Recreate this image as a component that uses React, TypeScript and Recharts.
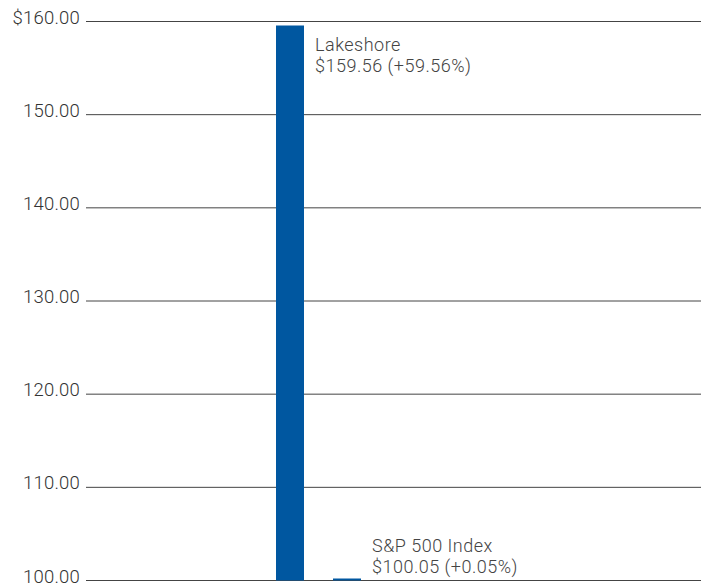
import { Bar, BarChart, CartesianGrid, LabelList, XAxis, YAxis } from "recharts";

const CATEGORIES = ["Cumulative total return"];
const SERIES_NAMES = ["Lakeshore", "S&P 500 Index"];
const LAKESHORE_VALUES = [159.56];
const SP500_VALUES = [100.05];
const RETURN_LABELS = ["$159.56 (+59.56%)", "$100.05 (+0.05%)"];
const Y_TICKS = [100, 110, 120, 130, 140, 150, 160];

const data = CATEGORIES.map((name, i) => ({
  name,
  lakeshore: LAKESHORE_VALUES[i],
  sp500: SP500_VALUES[i],
}));

const BAR_COLOR = "#0057a0";
const FONT = "Roboto, 'Liberation Sans', Arial, sans-serif";

function YTick(props: any) {
  const { x, y, payload } = props;
  const v = payload.value as number;
  const label = v === 160 ? "$160.00" : v.toFixed(2);
  return (
    <text x={x} y={y + 2} textAnchor="end" fill="#333" fontSize={18.5} fontFamily={FONT} fontWeight={300} letterSpacing={0.2}>
      {label}
    </text>
  );
}

function makeLabel(seriesIndex: number) {
  return function SeriesLabel(props: any) {
    const { x, y, width, height } = props;
    const tx = x + width + 11;
    // tall bar: text beside the top, short bar: text above it
    const base = height > 60 ? y + 25 : y - 27;
    return (
      <text x={tx} y={base} fill="#444" fontSize={18} fontFamily={FONT} fontWeight={300} letterSpacing={0.5}>
        <tspan x={tx}>{SERIES_NAMES[seriesIndex]}</tspan>
        <tspan x={tx} dy={21}>{RETURN_LABELS[seriesIndex]}</tspan>
      </text>
    );
  };
}

export default function App() {
  return (
    <div style={{ position: "absolute", left: 0, top: 0, background: "#fff" }}>
      <BarChart
        width={704}
        height={586}
        data={data}
        margin={{ top: 21.5, right: 3, bottom: 5.5, left: 0 }}
        barGap={29}
      >
        <CartesianGrid vertical={false} stroke="#444" strokeWidth={1} />
        <XAxis dataKey="name" hide padding={{ left: 0, right: 150 }} />
        <YAxis
          width={86}
          domain={[100, 160]}
          ticks={Y_TICKS}
          interval={0}
          axisLine={false}
          tickLine={false}
          tickSize={4}
          tickMargin={2}
          tick={<YTick />}
        />
        <Bar dataKey="lakeshore" fill={BAR_COLOR} barSize={28} isAnimationActive={false}>
          <LabelList dataKey="lakeshore" content={makeLabel(0)} />
        </Bar>
        <Bar dataKey="sp500" fill={BAR_COLOR} barSize={28} minPointSize={2} isAnimationActive={false}>
          <LabelList dataKey="sp500" content={makeLabel(1)} />
        </Bar>
      </BarChart>
    </div>
  );
}
